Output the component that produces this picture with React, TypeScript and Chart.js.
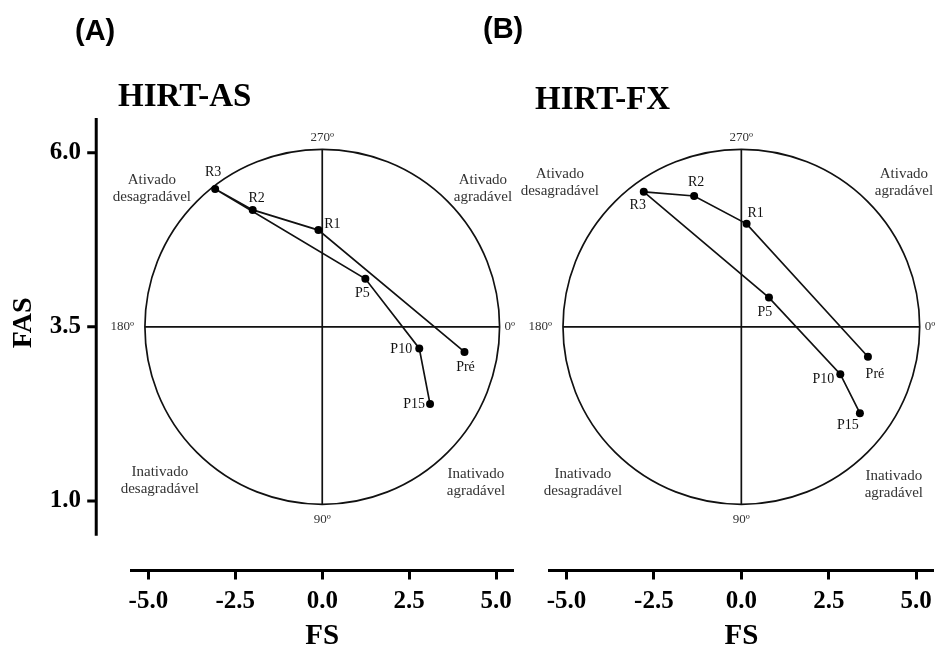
import React, { useEffect, useRef } from 'react';
import { Chart, registerables } from 'chart.js';

Chart.register(...registerables);

// Session phases, in the order the trajectory is drawn
const PHASES = ['Pré', 'R1', 'R2', 'R3', 'P5', 'P10', 'P15'];

// HIRT-AS: feeling scale (FS) and felt arousal (FAS) per phase
const FS_AS = [4.09, -0.11, -2.0, -3.08, 1.24, 2.79, 3.1];
const FAS_AS = [3.14, 4.89, 5.18, 5.48, 4.19, 3.19, 2.39];

// HIRT-FX
const FS_FX = [3.62, 0.15, -1.35, -2.79, 0.79, 2.83, 3.39];
const FAS_FX = [3.07, 4.98, 5.38, 5.44, 3.92, 2.82, 2.26];

// Axis ticks
const FS_TICKS = [-5, -2.5, 0, 2.5, 5];
const FAS_TICKS = [1, 3.5, 6];

// Circumplex ring: centre and radii in axis units
const FS_MID = 0;
const FAS_MID = 3.5;
const RING_FS = 5.1;
const RING_FAS = 2.55;

// Quadrant captions
const QUADRANTS: string[][] = [
  ['Ativado', 'desagradável'],
  ['Ativado', 'agradável'],
  ['Inativado', 'desagradável'],
  ['Inativado', 'agradável'],
];

// Placement of captions and point labels (axis units / pixel offsets)
const QUAD_POS_AS = [[-4.9, 5.48], [4.62, 5.48], [-4.67, 1.29], [4.42, 1.27]];
const QUAD_POS_FX = [[-5.19, 5.57], [4.65, 5.57], [-4.53, 1.26], [4.36, 1.24]];
const LABEL_OFF_AS = [[1, 15], [14, -6], [4, -12], [-2, -17], [-3, 15], [-18, 1], [-16, 0]];
const LABEL_OFF_FX = [[7, 18], [9, -10], [2, -14], [-6, 14], [-4, 15], [-17, 5], [-12, 12]];

const SERIF = "'Liberation Serif', 'Times New Roman', serif";
const SANS = "'Liberation Sans', Arial, sans-serif";

type PanelCfg = {
  letter: string;
  letterX: number;
  letterY: number;
  title: string;
  titleX: number;
  titleY: number;
  fs: number[];
  fas: number[];
  labelOff: number[][];
  quadPos: number[][];
  showY: boolean;
  padLeft: number;
  padRight: number;
};

const PANELS: PanelCfg[] = [
  {
    letter: '(A)', letterX: 75, letterY: 32,
    title: 'HIRT-AS', titleX: 118, titleY: 97,
    fs: FS_AS, fas: FAS_AS, labelOff: LABEL_OFF_AS, quadPos: QUAD_POS_AS,
    showY: true, padLeft: 0, padRight: 939 - 513.5,
  },
  {
    letter: '(B)', letterX: 483, letterY: 30,
    title: 'HIRT-FX', titleX: 535, titleY: 100,
    fs: FS_FX, fas: FAS_FX, labelOff: LABEL_OFF_FX, quadPos: QUAD_POS_FX,
    showY: false, padLeft: 549, padRight: 3,
  },
];

function makePlugin(cfg: PanelCfg) {
  return {
    id: 'circumplex',
    beforeDatasetsDraw(chart: any) {
      const { ctx } = chart;
      const x = chart.scales.x;
      const y = chart.scales.y;
      const cx = x.getPixelForValue(FS_MID);
      const cy = y.getPixelForValue(FAS_MID);
      const rx = x.getPixelForValue(FS_MID + RING_FS) - cx;
      const ry = cy - y.getPixelForValue(FAS_MID + RING_FAS);
      ctx.save();
      ctx.strokeStyle = '#111';
      ctx.lineWidth = 1.7;
      ctx.beginPath();
      ctx.ellipse(cx, cy, rx, ry, 0, 0, Math.PI * 2);
      ctx.stroke();
      ctx.beginPath();
      ctx.moveTo(cx - rx, cy);
      ctx.lineTo(cx + rx, cy);
      ctx.moveTo(cx, cy - ry);
      ctx.lineTo(cx, cy + ry);
      ctx.stroke();

      // angle marks
      ctx.fillStyle = '#333';
      ctx.font = `13px ${SERIF}`;
      ctx.textBaseline = 'middle';
      ctx.textAlign = 'center';
      ctx.fillText('270º', cx, cy - ry - 12);
      ctx.fillText('90º', cx, cy + ry + 15);
      ctx.textAlign = 'left';
      ctx.fillText('0º', cx + rx + 5, cy);
      ctx.textAlign = 'right';
      ctx.fillText('180º', cx - rx - 11, cy);

      // quadrant captions
      ctx.font = `15px ${SERIF}`;
      ctx.textAlign = 'center';
      QUADRANTS.forEach((lines, i) => {
        const px = x.getPixelForValue(cfg.quadPos[i][0]);
        const py = y.getPixelForValue(cfg.quadPos[i][1]);
        ctx.fillText(lines[0], px, py - 8.5);
        ctx.fillText(lines[1], px, py + 8.5);
      });
      ctx.restore();
    },
    afterDatasetsDraw(chart: any) {
      const { ctx } = chart;
      const meta = chart.getDatasetMeta(0);
      ctx.save();
      ctx.fillStyle = '#111';
      ctx.font = `14px ${SERIF}`;
      ctx.textAlign = 'center';
      ctx.textBaseline = 'middle';
      meta.data.forEach((pt: any, i: number) => {
        const [dx, dy] = cfg.labelOff[i];
        ctx.fillText(PHASES[i], pt.x + dx, pt.y + dy);
      });
      ctx.restore();
    },
    afterDraw(chart: any) {
      const { ctx } = chart;
      const x = chart.scales.x;
      const y = chart.scales.y;
      ctx.save();
      ctx.fillStyle = '#000';
      ctx.textBaseline = 'middle';
      ctx.textAlign = 'left';
      ctx.font = `bold 29px ${SANS}`;
      ctx.fillText(cfg.letter, cfg.letterX, cfg.letterY);
      ctx.font = `bold 33px ${SERIF}`;
      ctx.fillText(cfg.title, cfg.titleX, cfg.titleY);

      if (cfg.showY) {
        // detached vertical axis, one FS unit left of the plot
        const ax = x.getPixelForValue(x.min - 1);
        ctx.strokeStyle = '#000';
        ctx.lineWidth = 3;
        ctx.beginPath();
        ctx.moveTo(ax, y.getPixelForValue(y.max));
        ctx.lineTo(ax, y.getPixelForValue(0.5));
        FAS_TICKS.forEach((t) => {
          const py = y.getPixelForValue(t);
          ctx.moveTo(ax, py);
          ctx.lineTo(ax - 9, py);
        });
        ctx.stroke();

        ctx.translate(24, y.getPixelForValue(FAS_MID) - 4);
        ctx.rotate(-Math.PI / 2);
        ctx.textAlign = 'center';
        ctx.font = `bold 28px ${SERIF}`;
        ctx.fillText('FAS', 0, 0);
      }
      ctx.restore();
    },
  };
}

function Panel({ cfg }: { cfg: PanelCfg }) {
  const ref = useRef<HTMLCanvasElement | null>(null);

  useEffect(() => {
    if (!ref.current) return;
    const chart = new Chart(ref.current, {
      type: 'scatter',
      data: {
        datasets: [
          {
            data: cfg.fs.map((v, i) => ({ x: v, y: cfg.fas[i] })),
            showLine: true,
            borderColor: '#111',
            borderWidth: 1.7,
            backgroundColor: '#000',
            pointBackgroundColor: '#000',
            pointBorderWidth: 0,
            pointRadius: 4,
            tension: 0,
          },
        ],
      },
      options: {
        animation: false,
        responsive: false,
        devicePixelRatio: 1,
        layout: { padding: { left: cfg.padLeft, right: cfg.padRight, top: 118, bottom: 0 } },
        plugins: { legend: { display: false }, tooltip: { enabled: false } },
        events: [],
        scales: {
          x: {
            type: 'linear',
            min: -5.5,
            max: 5.5,
            afterBuildTicks: (s: any) => {
              s.ticks = FS_TICKS.map((v) => ({ value: v }));
            },
            afterFit: (s: any) => {
              s.height = 81.5;
            },
            border: { display: true, width: 3, color: '#000' },
            grid: {
              display: true,
              drawOnChartArea: false,
              drawTicks: true,
              tickLength: 9,
              tickWidth: 3,
              tickColor: '#000',
              color: '#000',
            },
            ticks: {
              padding: 7,
              maxRotation: 0,
              autoSkip: false,
              color: '#000',
              font: { family: SERIF, size: 25, weight: 'bold' },
              callback: (v: any) => Number(v).toFixed(1),
            },
            title: {
              display: true,
              text: 'FS',
              color: '#000',
              font: { family: SERIF, size: 29, weight: 'bold', lineHeight: 1 },
              padding: { top: 0, bottom: 1 },
            },
          },
          y: {
            type: 'linear',
            display: cfg.showY,
            min: 0,
            max: 6.5,
            afterBuildTicks: (s: any) => {
              s.ticks = FAS_TICKS.map((v) => ({ value: v }));
            },
            afterFit: (s: any) => {
              s.width = cfg.showY ? 131 : 0;
            },
            border: { display: false },
            grid: { display: false, drawTicks: false },
            ticks: {
              padding: 50,
              color: '#000',
              font: { family: SERIF, size: 25, weight: 'bold' },
              callback: (v: any) => Number(v).toFixed(1),
            },
          },
        },
      },
      plugins: [makePlugin(cfg)],
    } as any);
    return () => chart.destroy();
  }, [cfg]);

  return (
    <canvas
      ref={ref}
      width={939}
      height={652}
      style={{ position: 'absolute', left: 0, top: 0, width: 939, height: 652 }}
    />
  );
}

export default function App() {
  return (
    <div style={{ position: 'absolute', left: 0, top: 0, width: 939, height: 652, background: '#fff' }}>
      {PANELS.map((p) => (
        <Panel key={p.title} cfg={p} />
      ))}
    </div>
  );
}
